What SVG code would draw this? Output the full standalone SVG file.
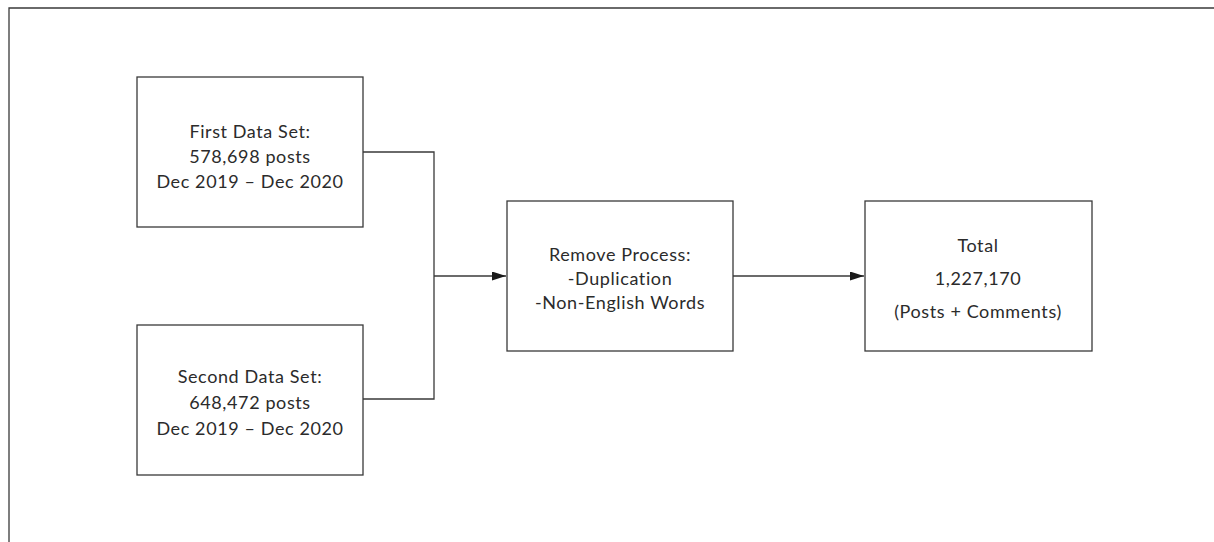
<svg xmlns="http://www.w3.org/2000/svg" width="1214" height="542" viewBox="0 0 1214 542">
  <style>
    .box { fill: #ffffff; stroke: #3a3a3a; stroke-width: 1.3; }
    .frame { fill: none; stroke: #3a3a3a; stroke-width: 1.3; }
    .edge { fill: none; stroke: #3a3a3a; stroke-width: 1.3; }
    .lbl { font-family: "Lato", "Liberation Sans", sans-serif; font-size: 18px; letter-spacing: 0.6px; fill: #2b2b2b; text-anchor: middle; }
  </style>
  <defs>
    <marker id="arrow" viewBox="0 0 14 9" refX="14" refY="4.5" markerWidth="14" markerHeight="9" markerUnits="userSpaceOnUse" orient="auto">
      <path d="M0,0 L14,4.5 L0,9 Z" fill="#1a1a1a"/>
    </marker>
  </defs>
  <rect width="1214" height="542" fill="#ffffff"/>

  <!-- outer frame: top and left edges -->
  <path class="frame" d="M9,542 V8 H1214"/>

  <g id="connectors">
    <path class="edge" d="M363,152 H434 V399 H363"/>
    <path class="edge" d="M434,276 H506" marker-end="url(#arrow)"/>
    <path class="edge" d="M733,276 H864" marker-end="url(#arrow)"/>
  </g>

  <g id="first-data-set">
    <rect class="box" x="137" y="77" width="226" height="150"/>
    <text class="lbl" x="250" y="138">First Data Set:</text>
    <text class="lbl" x="250" y="163">578,698 posts</text>
    <text class="lbl" x="250" y="188">Dec 2019 – Dec 2020</text>
  </g>

  <g id="second-data-set">
    <rect class="box" x="137" y="325" width="226" height="150"/>
    <text class="lbl" x="250" y="383">Second Data Set:</text>
    <text class="lbl" x="250" y="409">648,472 posts</text>
    <text class="lbl" x="250" y="435">Dec 2019 – Dec 2020</text>
  </g>

  <g id="remove-process">
    <rect class="box" x="507" y="201" width="226" height="150"/>
    <text class="lbl" x="620" y="261">Remove Process:</text>
    <text class="lbl" x="620" y="285">-Duplication</text>
    <text class="lbl" x="620" y="309">-Non-English Words</text>
  </g>

  <g id="total">
    <rect class="box" x="865" y="201" width="227" height="150"/>
    <text class="lbl" x="978" y="252">Total</text>
    <text class="lbl" x="978" y="285">1,227,170</text>
    <text class="lbl" x="978" y="318">(Posts + Comments)</text>
  </g>
</svg>
